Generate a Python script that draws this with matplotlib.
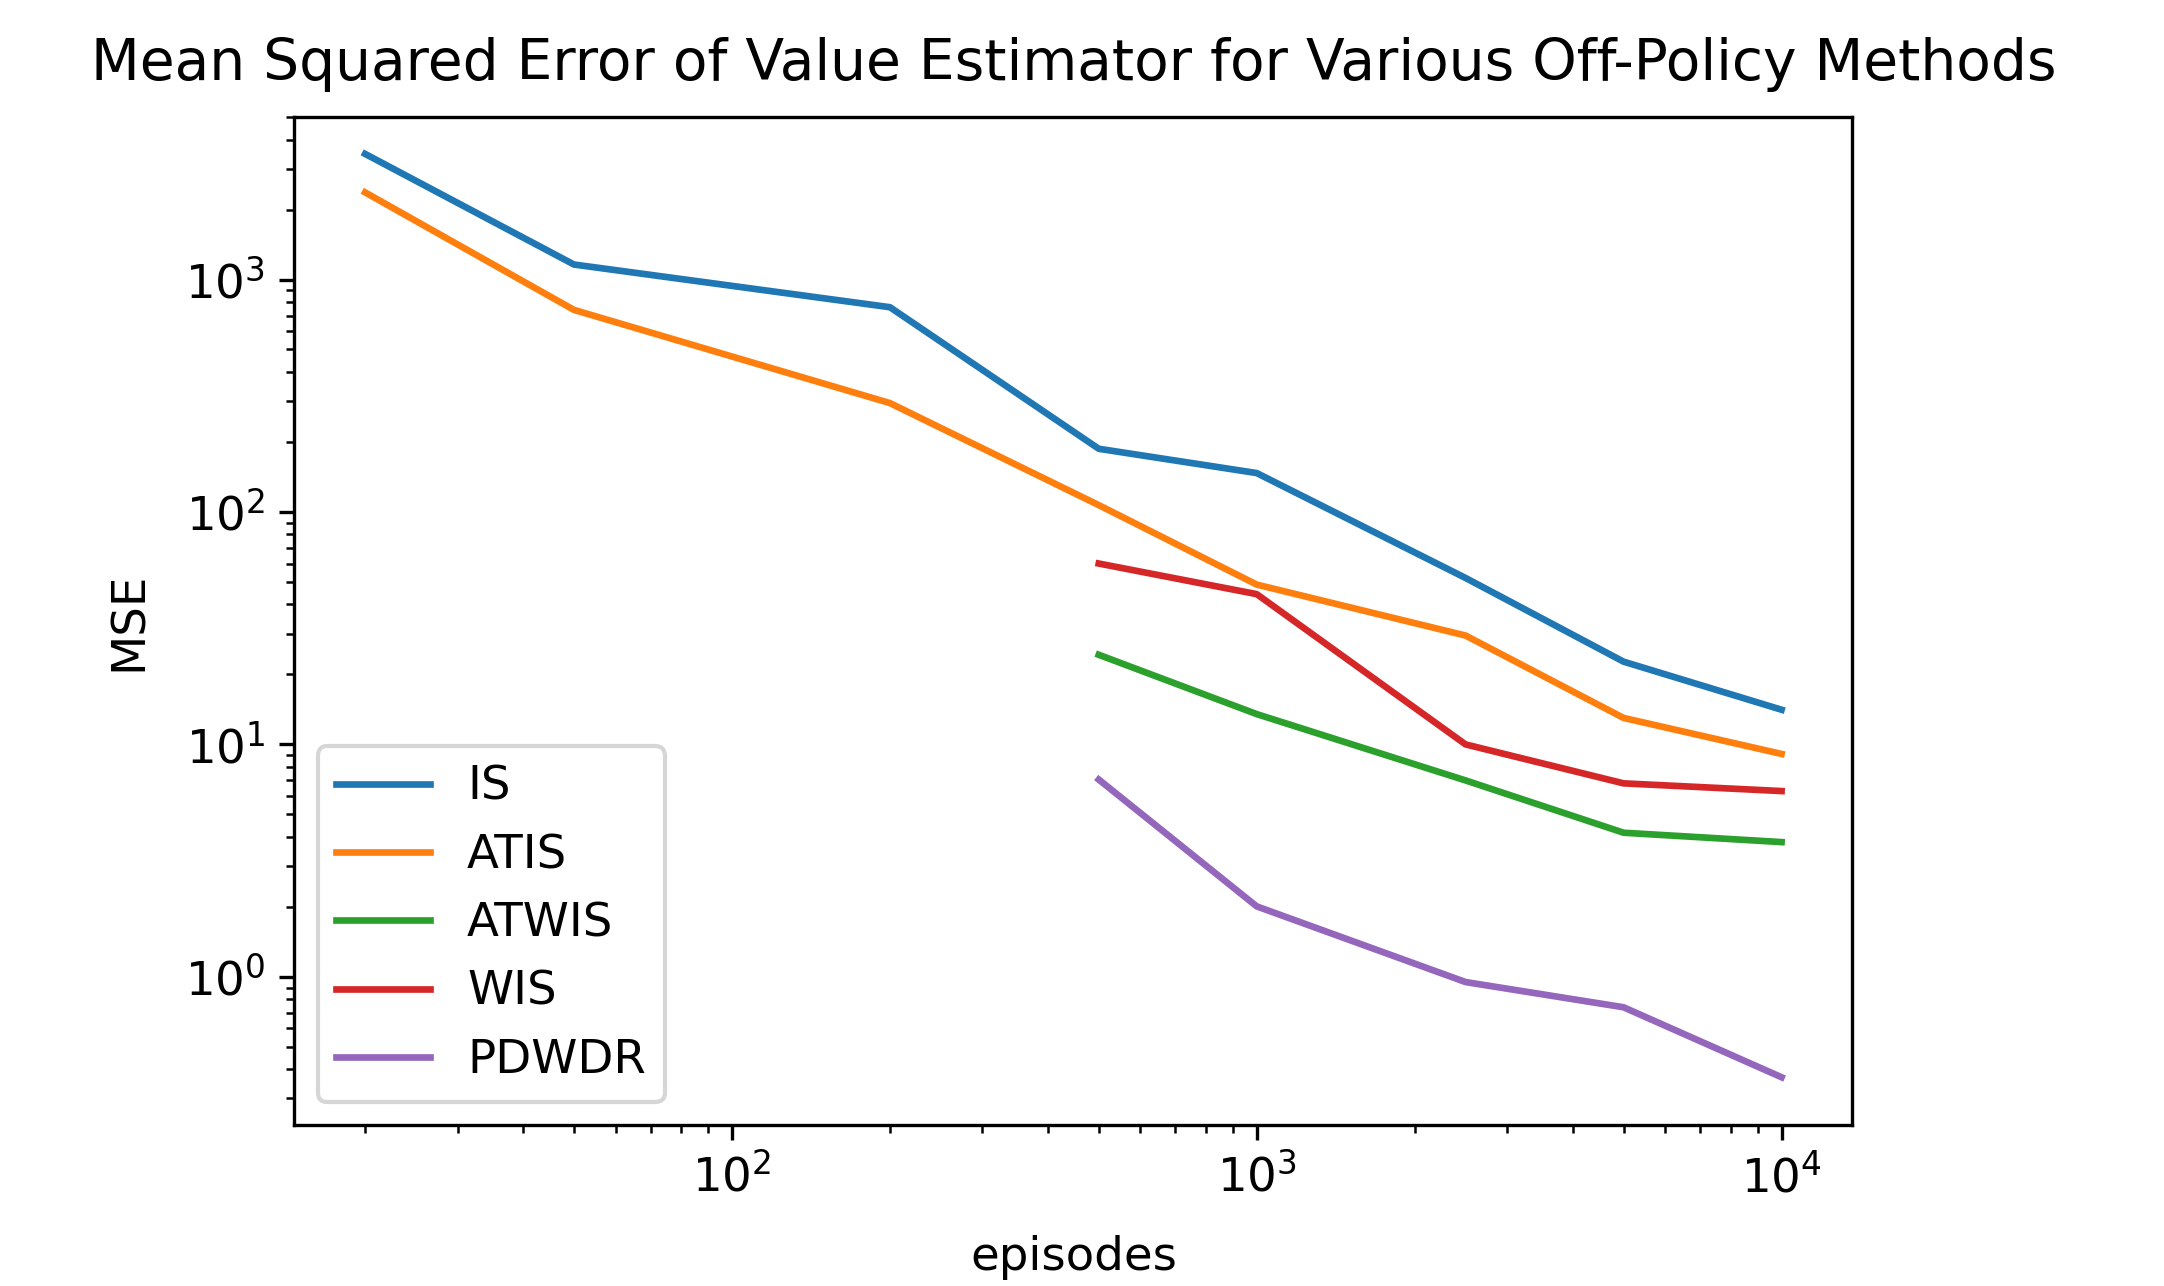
import matplotlib
matplotlib.use("Agg")
import matplotlib.pyplot as plt

# episodes at which the estimators were evaluated
episodes_long = [20, 50, 200, 500, 1000, 2500, 5000, 10000]
episodes_short = [500, 1000, 2500, 5000, 10000]

mse_is = [3470, 1160, 760, 187, 147, 52, 22.7, 14.1]
mse_atis = [2370, 740, 294, 107, 48.7, 29.4, 13.0, 9.1]
mse_atwis = [24.3, 13.5, 7.0, 4.17, 3.8]
mse_wis = [60, 44.3, 10.0, 6.8, 6.3]
mse_pdwdr = [7.06, 2.01, 0.95, 0.74, 0.37]

plt.rcParams['font.size'] = 11.2
plt.rcParams['lines.linewidth'] = 1.6

fig = plt.figure(figsize=(2164 / 300, 1286 / 300), dpi=300)
ax = fig.add_axes([0.136, 0.125, 0.72, 0.784])

ax.plot(episodes_long, mse_is, label='IS')
ax.plot(episodes_long, mse_atis, label='ATIS')
ax.plot(episodes_short, mse_atwis, label='ATWIS')
ax.plot(episodes_short, mse_wis, label='WIS')
ax.plot(episodes_short, mse_pdwdr, label='PDWDR')

ax.set_xscale('log')
ax.set_yscale('log')
ax.set_ylim(0.23, 5000)
ax.set_xlabel('episodes', labelpad=8)
ax.set_ylabel('MSE', labelpad=8)
ax.set_title('Mean Squared Error of Value Estimator for Various Off-Policy Methods',
             fontsize=13.6, pad=9)
ax.legend(loc='lower left')

fig.savefig('out.png', dpi=300)
